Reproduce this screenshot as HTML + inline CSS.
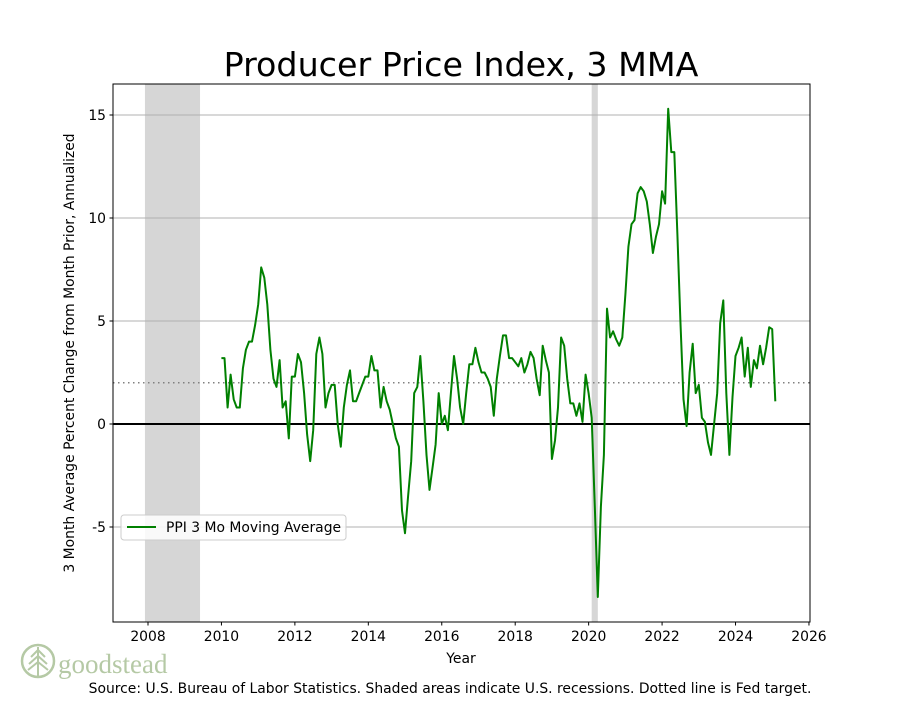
<!DOCTYPE html>
<html><head><meta charset="utf-8"><style>
body{margin:0;background:#fff;}
svg text{font-family:"DejaVu Sans","Liberation Sans",sans-serif;}
</style></head><body>
<svg id="c" width="900" height="700" xmlns="http://www.w3.org/2000/svg">
<text x="461" y="76" font-size="33.3" text-anchor="middle">Producer Price Index, 3 MMA</text>
<g id="plot"></g>
<g>
<circle cx="38" cy="661" r="16" fill="none" stroke="#b5c9a5" stroke-width="2.5"/>
<path d="M38 647 L38 677 M38 650 L31 657 M38 650 L45 657 M38 656 L29 664 M38 656 L47 664 M38 662 L28 670 M38 662 L48 670" stroke="#b5c9a5" stroke-width="2" fill="none"/>
<text x="58" y="673" font-size="27" fill="#b5c9a5" style="font-family:'Liberation Serif',serif">goodstead</text>
</g>
<text x="450" y="693" font-size="13.9" text-anchor="middle">Source: U.S. Bureau of Labor Statistics. Shaded areas indicate U.S. recessions. Dotted line is Fed target.</text>
</svg>
<script>
const startYear = 2010, startMonth = 1;
const values = [3.2,3.2,0.8,2.4,1.2,0.8,0.8,2.7,3.6,4.0,4.0,
4.8,5.8,7.6,7.1,5.8,3.6,2.2,1.8,3.1,0.8,1.1,-0.7,
2.3,2.3,3.4,3.0,1.5,-0.5,-1.8,-0.3,3.4,4.2,3.4,0.8,
1.5,1.9,1.9,0.0,-1.1,0.8,1.9,2.6,1.1,1.1,1.5,1.9,
2.3,2.3,3.3,2.6,2.6,0.8,1.8,1.1,0.7,0.0,-0.7,-1.1,
-4.2,-5.3,-3.5,-1.8,1.5,1.8,3.3,1.1,-1.5,-3.2,-2.1,-1.0,
1.5,0.0,0.4,-0.3,1.5,3.3,2.2,0.8,0.0,1.5,2.9,2.9,
3.7,3.0,2.5,2.5,2.2,1.8,0.4,2.2,3.3,4.3,4.3,3.2,
3.2,3.0,2.8,3.2,2.5,2.9,3.5,3.2,2.2,1.4,3.8,3.1,
2.5,-1.7,-0.8,0.8,4.2,3.8,2.2,1.0,1.0,0.4,1.0,0.1,
2.4,1.5,0.3,-4.0,-8.4,-4.0,-1.5,5.6,4.2,4.5,4.1,3.8,
4.2,6.3,8.6,9.7,9.9,11.2,11.5,11.3,10.8,9.7,8.3,9.1,
9.7,11.3,10.7,15.3,13.2,13.2,9.2,5.0,1.2,-0.1,2.5,3.9,
1.5,1.9,0.3,0.1,-0.9,-1.5,0.0,1.5,4.9,6.0,1.5,-1.5,
1.3,3.3,3.7,4.2,2.3,3.7,1.8,3.1,2.7,3.8,2.9,3.7,
4.7,4.6,1.1];
const xTicks = [2008,2010,2012,2014,2016,2018,2020,2022,2024,2026];
const yTicks = [-5,0,5,10,15];
const recessions = [[2007.917,2009.417],[2020.083,2020.25]];
const fedTarget = [2];

const L=113,R=810,T=84,B=622;
const x = t => 148 + (t-2008)*36.72;
const y = v => 424 - v*20.6;
const g = document.getElementById('plot');
const NS='http://www.w3.org/2000/svg';
function mk(tag, attrs, parent){const e=document.createElementNS(NS,tag);for(const k in attrs)e.setAttribute(k,attrs[k]);(parent||g).appendChild(e);return e;}

recessions.forEach(r=>{
  const e=mk('rect',{x:x(r[0]),y:T,width:x(r[1])-x(r[0]),height:B-T,fill:'#d6d6d6'});
  
  
});
yTicks.forEach(v=>{
  const e=mk('line',{x1:L,x2:R,y1:y(v),y2:y(v),stroke:'#b0b0b0','stroke-width':1});
  
  
  const tk=mk('line',{x1:L-3.5,x2:L,y1:y(v),y2:y(v),stroke:'#000'});
  
  
  const t=mk('text',{x:L-7,y:y(v)+5,'font-size':13.9,'text-anchor':'end'});
  t.textContent=v;
  
  
});
fedTarget.forEach(v=>{
  const e=mk('line',{x1:L,x2:R,y1:y(v),y2:y(v),stroke:'#808080','stroke-width':1.5,'stroke-dasharray':'1.5,3.5'});
  
  
});
const z=mk('line',{x1:L,x2:R,y1:y(0),y2:y(0),stroke:'#000','stroke-width':2});


let pts=values.map((v,i)=>{const t=startYear+(startMonth-1+i)/12;return x(t).toFixed(1)+','+y(v).toFixed(1);}).join(' ');
const ln=mk('polyline',{points:pts,fill:'none',stroke:'#008000','stroke-width':2,'stroke-linejoin':'round'});


const fr=mk('rect',{x:L,y:T,width:R-L,height:B-T,fill:'none',stroke:'#000','stroke-width':1});


xTicks.forEach(v=>{
  const tk=mk('line',{x1:x(v),x2:x(v),y1:B,y2:B+3.5,stroke:'#000'});
  
  
  const t=mk('text',{x:x(v),y:B+19,'font-size':13.9,'text-anchor':'middle'});
  t.textContent=v;
  
  
});
const xt=mk('text',{x:461,y:663,'font-size':13.9,'text-anchor':'middle'});
xt.textContent='Year';


const yt=mk('text',{x:0,y:0,'font-size':13.9,'text-anchor':'middle',transform:'translate(74,353) rotate(-90)'});
yt.textContent='3 Month Average Percent Change from Month Prior, Annualized';


const lg=mk('g',{});


mk('rect',{x:121,y:515,width:225,height:25,rx:3,fill:'#fff','fill-opacity':0.85,stroke:'#cccccc'},lg);
mk('line',{x1:127,x2:156,y1:527,y2:527,stroke:'#008000','stroke-width':2},lg);
const lt=mk('text',{x:166,y:532,'font-size':13.9},lg);
lt.textContent='PPI 3 Mo Moving Average';


</script>
</body></html>
